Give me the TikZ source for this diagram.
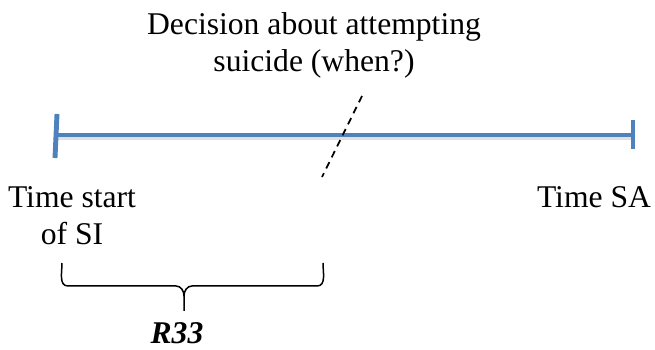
\documentclass[tikz,border=0pt]{standalone}
\usepackage{fontspec}
\setmainfont{Liberation Serif}
\usepackage{tikz}
\definecolor{officeblue}{HTML}{4F81BD}
\tikzset{timeline/.style={officeblue,line width=2.8pt},
  shade line/.style={black!12,line width=2.8pt},
  label/.style={align=center,inner sep=0pt,anchor=base},
  brace line/.style={line width=.85pt}}

\begin{document}
\begin{tikzpicture}[x=.02cm,y=-.02cm,line width=.35pt,font=\fontsize{18}{21.6}\selectfont]
\useasboundingbox (0,0) rectangle (655,350);
\coordinate (S) at (57,135);\coordinate (E) at (633,135);
\coordinate (Dtop) at (362,96);\coordinate (Dbot) at (322,177);
\draw[shade line] ([yshift=-1.6pt]S)--([yshift=-1.6pt]E);
\draw[timeline] (S)--(E);
\draw[timeline] (S) ++(0,-21)--++(-2,44);\draw[timeline] (E) ++(0,-15)--++(0,29);
\draw[line width=1pt,dash pattern=on 4pt off 3pt] (Dtop)--(Dbot);
\node[label] (dec) at (314,72) {Decision about attempting\\suicide (when?)};
\node[label] (tss) at (72,245) {Time start\\of SI};
\node[label] (tsa) at (594,208) {Time SA};
\coordinate (Bl) at (62,263);\coordinate (Br) at (323,263);\coordinate (Bt) at (184,311);
\draw[brace line] (Bl) to[out=-90,in=180] (68,286)--(176,286) to[out=0,in=90] (Bt|-0,296)--(Bt);
\draw[brace line] (Br) to[out=-90,in=0] (317,286)--(192,286) to[out=180,in=90] (Bt|-0,296);
\node[label,font=\fontsize{18}{21.6}\selectfont\bfseries\itshape] (r33) at (177,344) {R33};
\end{tikzpicture}
\end{document}
